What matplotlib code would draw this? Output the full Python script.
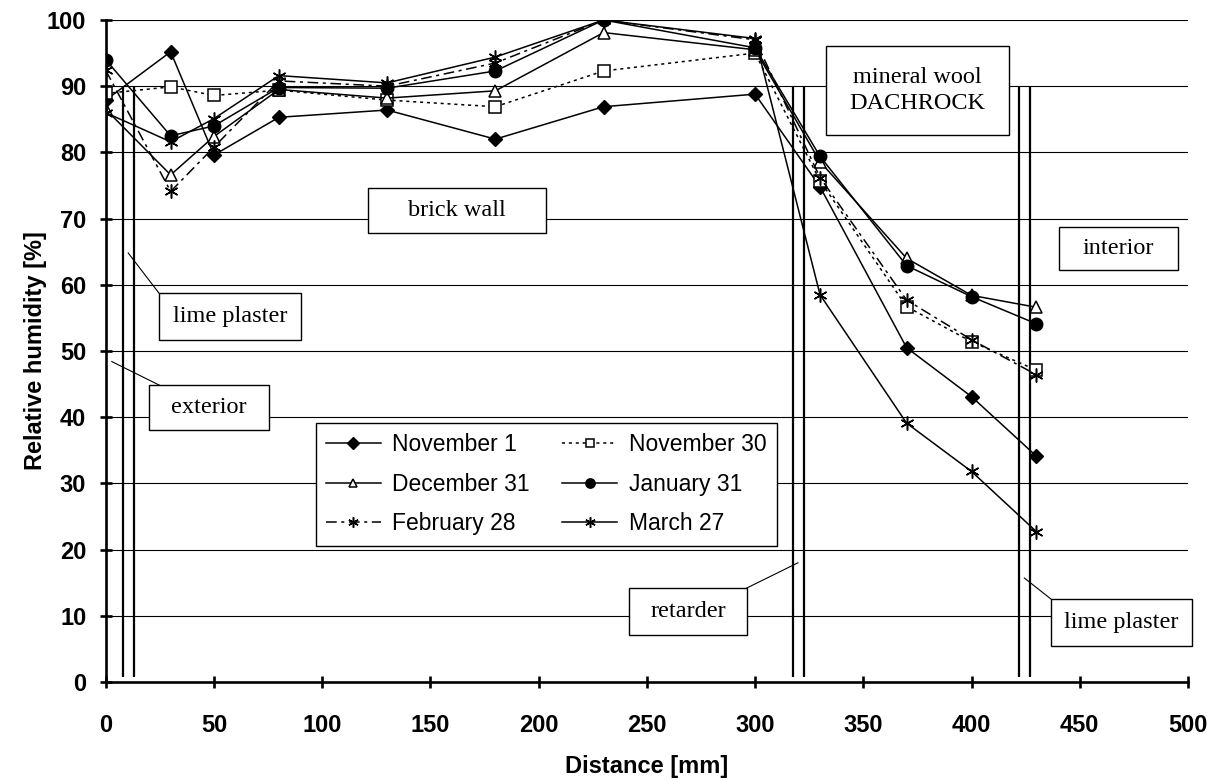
import matplotlib
matplotlib.use('Agg')
import matplotlib.pyplot as plt
from matplotlib.patches import Rectangle

# ---------------- data ----------------
distance = [0, 30, 50, 80, 130, 180, 230, 300, 330, 370, 400, 430]
nov_1  = [87.9, 95.2, 79.6, 85.3, 86.4, 82.0, 86.9, 88.8, 74.8, 50.5, 43.1, 34.1]
nov_30 = [88.9, 89.9, 88.6, 89.4, 87.9, 86.9, 92.3, 95.0, 75.7, 56.7, 51.4, 47.1]
dec_31 = [86.5, 76.6, 82.4, 89.5, 88.2, 89.3, 98.1, 95.5, 78.6, 64.0, 58.4, 56.6]
jan_31 = [94.0, 82.5, 84.0, 89.8, 89.7, 92.3, 100.0, 95.8, 79.4, 62.9, 58.2, 54.1]
feb_28 = [92.4, 74.1, 80.8, 90.8, 90.0, 93.5, 100.0, 97.0, 76.2, 57.7, 51.7, 46.4]
mar_27 = [86.0, 81.6, 85.1, 91.6, 90.5, 94.4, 100.0, 97.2, 58.5, 39.1, 31.8, 22.7]

series_labels = ["November 1", "November 30", "December 31",
                 "January 31", "February 28", "March 27"]

layer_bounds = [8, 13, 317.5, 322.5, 422, 427]

x_ticks = [0, 50, 100, 150, 200, 250, 300, 350, 400, 450, 500]
y_ticks = [0, 10, 20, 30, 40, 50, 60, 70, 80, 90, 100]

# ---------------- figure ----------------
fig = plt.figure(figsize=(12.25, 7.81), dpi=100)
ax = fig.add_axes([0.0863, 0.1268, 0.8835, 0.8476])
ax.set_xlim(0, 500)
ax.set_ylim(0, 100)

sans = ['Liberation Sans', 'DejaVu Sans']
serif = ['Liberation Serif', 'DejaVu Serif']

# gridlines
for yv in y_ticks[1:]:
    ax.axhline(yv, color='black', lw=0.8, zorder=1)

# layer boundaries
ax.vlines(layer_bounds, 0.8, 90, colors='black', lw=1.6, zorder=2)

asterisk = (6, 2, 0)
lw = 1.1
h1, = ax.plot(distance, nov_1, color='black', lw=lw, marker='D', ms=7.5,
              mfc='black', mec='black', label=series_labels[0], zorder=5)
h2, = ax.plot(distance, nov_30, color='black', lw=lw, dashes=(2, 2.5), marker='s', ms=8,
              mfc='white', mec='black', mew=1.1, label=series_labels[1], zorder=5)
h3, = ax.plot(distance, dec_31, color='black', lw=lw, marker='^', ms=8.5,
              mfc='white', mec='black', mew=1.1, label=series_labels[2], zorder=5)
h4, = ax.plot(distance, jan_31, color='black', lw=lw, marker='o', ms=9,
              mfc='black', mec='black', label=series_labels[3], zorder=5)
h5, = ax.plot(distance, feb_28, color='black', lw=lw, dashes=(7, 3, 2, 3), marker=asterisk, ms=10,
              mfc='black', mec='black', mew=1.1, label=series_labels[4], zorder=5)
h6, = ax.plot(distance, mar_27, color='black', lw=lw, marker=asterisk, ms=10,
              mfc='black', mec='black', mew=1.1, label=series_labels[5], zorder=5)

# spines / ticks
for s in ['top', 'right']:
    ax.spines[s].set_visible(False)
for s in ['left', 'bottom']:
    ax.spines[s].set_linewidth(1.9)
    ax.spines[s].set_zorder(6)
ax.set_xticks(x_ticks)
ax.set_yticks(y_ticks)
ax.tick_params(axis='both', direction='inout', length=8, width=1.9,
               labelsize=17)
ax.tick_params(axis='x', pad=19)
ax.tick_params(axis='y', pad=10)
for lab in ax.get_xticklabels() + ax.get_yticklabels():
    lab.set_fontweight('bold')
    lab.set_family(sans)

ax.set_xlabel('Distance [mm]', fontsize=17, fontweight='bold', family=sans, labelpad=13)
ax.set_ylabel('Relative humidity [%]', fontsize=17, fontweight='bold', family=sans, labelpad=0)

# annotation boxes: (text, x0, y0, x1, y1, leader)
boxes = [
    ("brick wall", 121, 67.8, 203.6, 74.6, None),
    ("lime plaster", 24.7, 51.7, 90, 58.7, ((10.4, 64.8), (24.7, 58.7))),
    ("exterior", 20, 38, 75.5, 44.8, ((2.8, 48.4), (25, 44.8))),
    ("mineral wool\nDACHROCK", 332.6, 82.6, 417.2, 96, None),
    ("interior", 440.3, 62.2, 495.2, 68.8, None),
    ("retarder", 241.7, 7.1, 296.2, 14.2, ((319.8, 18.0), (296.2, 14.2))),
    ("lime plaster", 436.8, 5.4, 501.8, 12.5, ((424.4, 15.7), (436.8, 12.5))),
]
for txt, x0, y0, x1, y1, leader in boxes:
    ax.add_patch(Rectangle((x0, y0), x1 - x0, y1 - y0, facecolor='white',
                           edgecolor='black', lw=1.0, zorder=3, clip_on=False))
    ax.text((x0 + x1) / 2, (y0 + y1) / 2, txt, ha='center', va='center',
            fontsize=17.5, family=serif, zorder=4, linespacing=1.3, clip_on=False)
    if leader is not None:
        (lx0, ly0), (lx1, ly1) = leader
        ax.plot([lx0, lx1], [ly0, ly1], color='black', lw=0.8, zorder=3, clip_on=False)

# row-major legend order (two columns)
handles = [h1, h3, h5, h2, h4, h6]
labels = [h.get_label() for h in handles]
leg = ax.legend(handles, labels, loc='upper left', bbox_to_anchor=(0.194, 0.391), ncol=2,
                prop={'family': sans, 'size': 16.5}, frameon=True, fancybox=False,
                edgecolor='black', framealpha=1, handlelength=2.4, handletextpad=0.5,
                columnspacing=1.4, labelspacing=0.72, borderpad=0.45, markerscale=0.75,
                borderaxespad=0)
leg.get_frame().set_linewidth(1.0)
leg.set_zorder(7)

fig.savefig('out.png', dpi=100)
